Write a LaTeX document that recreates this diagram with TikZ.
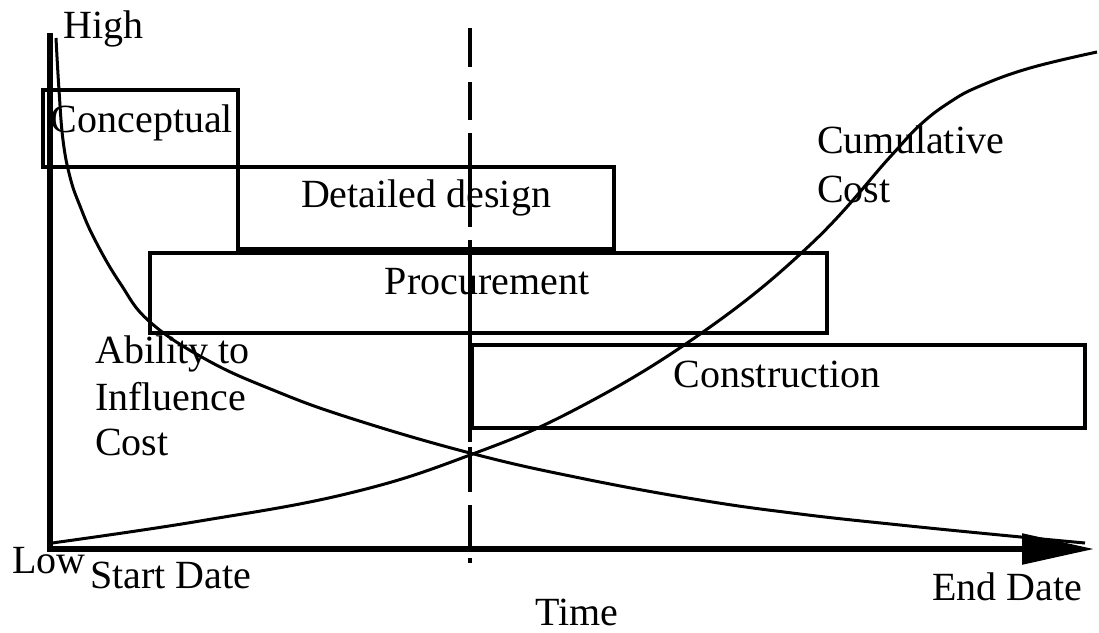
\documentclass[tikz,border=0pt]{standalone}
\usepackage{fontspec}
\setmainfont{Liberation Serif}
\usetikzlibrary{arrows.meta}
\begin{document}
\begin{tikzpicture}[x=1pt,y=-1pt,
  lbl/.style={inner sep=0pt, font=\fontsize{40}{46}\selectfont},
  phase/.style={draw, rectangle, line width=4pt, inner sep=0pt},
  axisline/.style={line width=5.5pt, line join=miter},
  curveline/.style={line width=3pt, smooth, tension=0.7},
  divider/.style={line width=4pt,
    dash pattern=on 39pt off 15pt on 38pt off 13pt on 94pt off 13pt on 202pt off 5pt on 45pt off 13pt on 42pt off 11pt on 5pt off 200pt}
]
\useasboundingbox (0,0) rectangle (1099,632);

% phase bars
\node[phase, minimum width=195pt, minimum height=77pt] (concept) at (140.5,128.5) {};
\node[phase, minimum width=376pt, minimum height=82pt] (detail) at (426,208) {};
\node[phase, minimum width=677pt, minimum height=80pt] (procure) at (488.5,293) {};
\node[phase, minimum width=613pt, minimum height=83pt] (build) at (778.5,386.5) {};

% axes
\coordinate (ytop) at (50,33);
\coordinate (origin) at (50,549);
\coordinate (xend) at (1094,549);
\draw[axisline, -{Triangle[length=72pt,width=30pt]}] (ytop) -- (origin) -- (xend);

% project midpoint marker
\coordinate (mtop) at (470,28);
\coordinate (mbot) at (470,563);
\draw[divider] (mtop) -- (mbot);

% ability to influence cost
\draw[curveline] plot coordinates {(56,38) (59,90) (63,140) (70,177) (80,206) (95,240) (120,283) (150,322) (207,360) (273,390) (350,418) (470,453) (580,478) (700,500) (800,514) (900,525) (1000,535) (1085,543)};

% cumulative cost
\draw[curveline] plot coordinates {(52,543) (200,521) (350,493) (470,455) (580,407) (703,332) (810,245) (890,157) (920,125) (950,102) (980,86) (1030,68) (1097,52)};

% labels
\node[lbl, anchor=base west] (high) at (63,38) {High};
\node[lbl, anchor=base west] (low) at (12,573) {Low};
\node[lbl, anchor=base] (tconcept) at (142,132) {Conceptual};
\node[lbl, anchor=base] (tdetail) at (426,207) {Detailed design};
\node[lbl, anchor=base] (tprocure) at (487,294) {Procurement};
\node[lbl, anchor=base] (tbuild) at (777,387) {Construction};
\node[lbl, anchor=base west] (cum1) at (817,153) {Cumulative};
\node[lbl, anchor=base west] (cum2) at (817,202) {Cost};
\node[lbl, anchor=base west] (inf1) at (95,363) {Ability to};
\node[lbl, anchor=base west] (inf2) at (95,410) {Influence};
\node[lbl, anchor=base west] (inf3) at (95,455) {Cost};
\node[lbl, anchor=base west] (start) at (90,588) {Start Date};
\node[lbl, anchor=base west] (finish) at (932,600) {End Date};
\node[lbl, anchor=base west] (time) at (535,625) {Time};
\end{tikzpicture}
\end{document}
